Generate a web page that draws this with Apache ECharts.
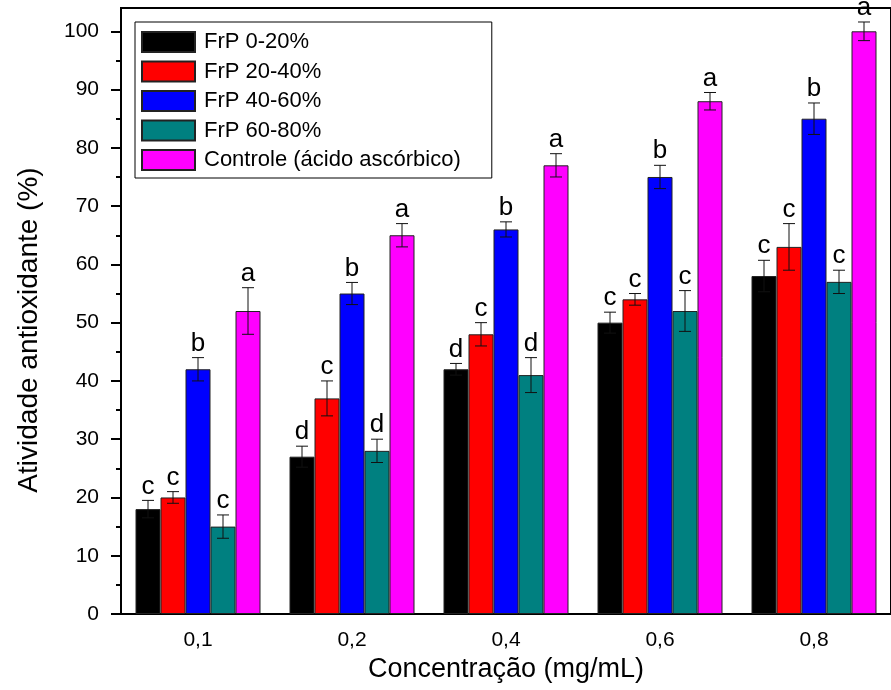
<!DOCTYPE html>
<html>
<head>
<meta charset="utf-8">
<script src="https://cdn.jsdelivr.net/npm/echarts@6/dist/echarts.min.js"></script>
<style>
  html, body { margin: 0; padding: 0; background: #fff; }
  #chart { width: 891px; height: 690px; }
</style>
</head>
<body>
<div id="chart"></div>
<script>
// categorias (concentração)
var categories = ['0,1', '0,2', '0,4', '0,6', '0,8'];
var seriesNames = ['FrP 0-20%', 'FrP 20-40%', 'FrP 40-60%', 'FrP 60-80%', 'Controle (ácido ascórbico)'];
var colors = ['#000000', '#ff0000', '#0000ff', '#008080', '#ff00ff'];

// valores
var frp0_20 = [18, 27, 42, 50, 58];
var frp20_40 = [20, 37, 48, 54, 63];
var frp40_60 = [42, 55, 66, 75, 85];
var frp60_80 = [15, 28, 41, 52, 57];
var controle = [52, 65, 77, 88, 100];

// desvios (barras de erro)
var err0_20 = [1.5, 1.8, 1, 1.8, 2.7];
var err20_40 = [1, 3, 2, 1, 4];
var err40_60 = [2, 1.9, 1.3, 2, 2.7];
var err60_80 = [2, 2, 3, 3.5, 2];
var errControle = [4, 2, 2, 1.5, 1.6];

// letras de significância
var let0_20 = ['c', 'd', 'd', 'c', 'c'];
var let20_40 = ['c', 'c', 'c', 'c', 'c'];
var let40_60 = ['b', 'b', 'b', 'b', 'b'];
var let60_80 = ['c', 'd', 'd', 'c', 'c'];
var letControle = ['a', 'a', 'a', 'a', 'a'];

var yTicks = [0, 10, 20, 30, 40, 50, 60, 70, 80, 90, 100];
var yMinorTicks = [5, 15, 25, 35, 45, 55, 65, 75, 85, 95];

var values = [frp0_20, frp20_40, frp40_60, frp60_80, controle];
var errors = [err0_20, err20_40, err40_60, err60_80, errControle];
var letters = [let0_20, let20_40, let40_60, let60_80, letControle];

var barWidth = 25;
var font = 'Liberation Sans, Arial, sans-serif';

var chart = echarts.init(document.getElementById('chart'));

var series = [];
values.forEach(function (vals, i) {
    series.push({
        name: seriesNames[i],
        type: 'bar',
        data: vals,
        barWidth: barWidth,
        barGap: '0%',
        itemStyle: { color: colors[i], borderColor: '#222', borderWidth: 1 }
    });
});
values.forEach(function (vals, i) {
    series.push({
        name: 'erro' + i,
        type: 'custom',
        z: 5,
        data: vals.map(function (v, j) { return [j, v, errors[i][j]]; }),
        renderItem: function (params, api) {
            var idx = api.value(0), v = api.value(1), e = api.value(2);
            var x = api.coord([idx, v])[0] + (i - 2) * barWidth;
            var yTop = api.coord([idx, v + e])[1];
            var yBot = api.coord([idx, v - e])[1];
            var cap = 6;
            var st = { stroke: '#111', lineWidth: 1 };
            return {
                type: 'group',
                children: [
                    { type: 'line', shape: { x1: x, y1: yTop, x2: x, y2: yBot }, style: st },
                    { type: 'line', shape: { x1: x - cap, y1: yTop, x2: x + cap, y2: yTop }, style: st },
                    { type: 'line', shape: { x1: x - cap, y1: yBot, x2: x + cap, y2: yBot }, style: st },
                    { type: 'text', x: x, y: yTop - 1, style: {
                        text: letters[i][params.dataIndex], fill: '#000',
                        font: '26px ' + font, align: 'center', verticalAlign: 'bottom'
                    } }
                ]
            };
        }
    });
});

chart.setOption({
    animation: false,
    grid: {
        left: 121, top: 8, bottom: 76, width: 780,
        show: true, borderColor: '#000', borderWidth: 2
    },
    legend: {
        data: seriesNames,
        orient: 'vertical',
        left: 135, top: 22,
        padding: [9, 31, 7, 6],
        itemWidth: 53, itemHeight: 20, itemGap: 7.5,
        borderColor: '#000', borderWidth: 1,
        backgroundColor: '#fff',
        icon: 'rect',
        textStyle: { fontFamily: font, fontSize: 22, lineHeight: 20, color: '#000', padding: [0, 0, 0, 4] }
    },
    xAxis: {
        type: 'category',
        data: categories,
        name: 'Concentração (mg/mL)',
        nameLocation: 'middle',
        nameGap: 40,
        nameTextStyle: { fontFamily: font, fontSize: 27, color: '#000' },
        axisLine: { lineStyle: { color: '#000', width: 2 } },
        axisTick: { alignWithLabel: true, length: 12, lineStyle: { color: '#000', width: 2 } },
        axisLabel: { fontFamily: font, fontSize: 21, color: '#000', margin: 16 }
    },
    yAxis: [{
        type: 'value',
        min: 0, max: 104,
        name: 'Atividade antioxidante (%)',
        nameLocation: 'middle',
        nameGap: 78,
        nameTextStyle: { fontFamily: font, fontSize: 28, color: '#000', padding: [0, 38, 0, 0] },
        splitLine: { show: false },
        axisLine: { show: true, lineStyle: { color: '#000', width: 2 } },
        axisTick: { show: true, customValues: yTicks, length: 10, lineStyle: { color: '#000', width: 2 } },
        axisLabel: { customValues: yTicks, fontFamily: font, fontSize: 21, color: '#000', margin: 22 }
    }, {
        type: 'value',
        min: 0, max: 104,
        position: 'left',
        splitLine: { show: false },
        axisLine: { show: false },
        axisTick: { show: true, customValues: yMinorTicks, length: 5, lineStyle: { color: '#000', width: 2 } },
        axisLabel: { show: false }
    }],
    series: series
});
</script>
</body>
</html>
